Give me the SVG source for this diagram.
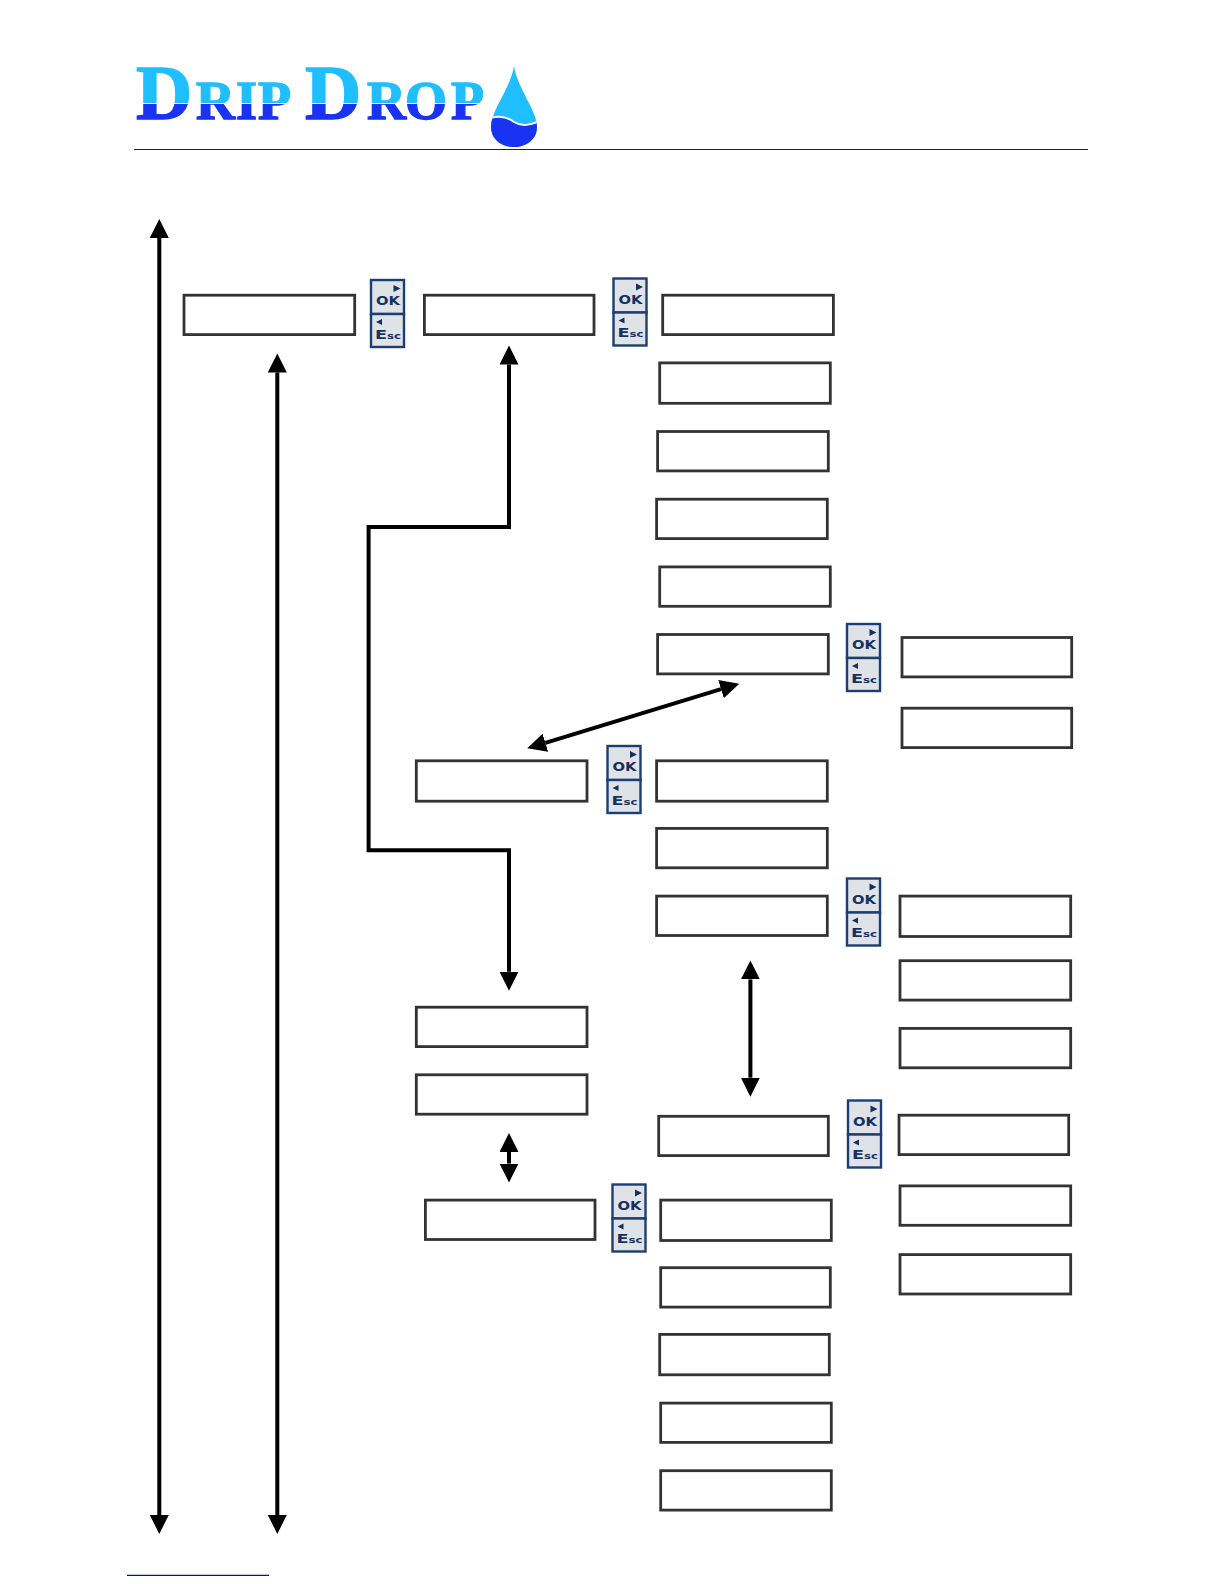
<svg xmlns="http://www.w3.org/2000/svg" xmlns:xlink="http://www.w3.org/1999/xlink" width="1224" height="1584" viewBox="0 0 1224 1584">
<style>
.box{fill:#fff;stroke:#333;stroke-width:2.8}
.conn{fill:none;stroke:#000;stroke-width:4}
.a{marker-start:url(#head);marker-end:url(#head)}
.logo{font-family:"Liberation Serif",serif;font-weight:bold;fill:url(#split);stroke:url(#split);stroke-width:1.4}
.bt{fill:#dfe3e8;stroke:#1c3f73;stroke-width:2.4}
.bl{font-family:"DejaVu Sans",sans-serif;font-weight:bold;fill:#16315f}
.tri{fill:#16315f}
</style>
<defs>
<marker id="head" markerUnits="userSpaceOnUse" markerWidth="20" markerHeight="20" refX="0" refY="9.5" orient="auto-start-reverse"><path d="M0,0L19,9.5L0,19Z" fill="#000"/></marker>
<linearGradient id="split" gradientUnits="userSpaceOnUse" x1="0" y1="60" x2="0" y2="125">
<stop offset="0.655" stop-color="#1fbeff"/><stop offset="0.655" stop-color="#fff"/><stop offset="0.67" stop-color="#fff"/><stop offset="0.67" stop-color="#1a33f2"/>
</linearGradient>
<clipPath id="dropclip"><path d="M514,66C510,90 491,110 491,127C491,139 501,147 514,147C527,147 537,139 537,127C537,110 518,90 514,66Z"/></clipPath>
<symbol id="btn" width="36" height="70" viewBox="0 0 36 70" overflow="visible">
<rect class="bt" x="1" y="1" width="33" height="34"/>
<rect class="bt" x="1" y="35" width="33" height="33"/>
<path class="tri" d="M23.5,6L30.5,9.5L23.5,13Z"/>
<path class="tri" d="M12,40L6,43L12,46Z"/>
<text class="bl" x="6" y="26" font-size="12" textLength="24" lengthAdjust="spacingAndGlyphs">OK</text>
<text class="bl" x="5" y="59.5" font-size="12" textLength="26" lengthAdjust="spacingAndGlyphs">E<tspan font-size="8">sc</tspan></text>
</symbol>
</defs>
<rect width="1224" height="1584" fill="#fff"/>
<g id="logo">
<text class="logo" y="118.5" font-size="78" x="136">D</text>
<text class="logo" y="118.5" font-size="54" x="196 236 258">RIP</text>
<text class="logo" y="118.5" font-size="78" x="305">D</text>
<text class="logo" y="118.5" font-size="54" x="367 405 451">ROP</text>
<g clip-path="url(#dropclip)">
<rect x="488" y="60" width="52" height="90" fill="#1fbeff"/>
<path d="M488,119C498,115 506,116 514,122C522,127 530,125 540,121V150H488Z" fill="#1a33f2"/>
<path d="M488,119C498,115 506,116 514,122C522,127 530,125 540,121" fill="none" stroke="#fff" stroke-width="2"/>
</g>
</g>
<line x1="134" y1="149.5" x2="1088" y2="149.5" stroke="#222" stroke-width="1.2"/>
<line x1="127" y1="1575.3" x2="269" y2="1575.3" stroke="#00148c" stroke-width="1.2"/>
<g id="connectors">
<line class="conn a" x1="159.3" y1="238" x2="159.3" y2="1515"/>
<line class="conn a" x1="277.3" y1="372.5" x2="277.3" y2="1515"/>
<path class="conn a" d="M509,364.5V527H368.6V850.3H509V971.7"/>
<line class="conn a" x1="545.4" y1="742.8" x2="721" y2="689.2"/>
<line class="conn a" x1="750.4" y1="979.4" x2="750.4" y2="1077.7"/>
<line class="conn a" x1="509" y1="1152" x2="509" y2="1163.6"/>
</g>
<g id="n1"><rect class="box" x="184" y="295.2" width="170.7" height="39.4"/></g>
<g id="n2"><rect class="box" x="424.4" y="295.2" width="169.6" height="39.4"/></g>
<g id="n3"><rect class="box" x="662.7" y="295.2" width="170.7" height="39.4"/></g>
<g id="n4"><rect class="box" x="659.7" y="362.9" width="170.6" height="40.4"/></g>
<g id="n5"><rect class="box" x="657.6" y="431.5" width="170.7" height="39.4"/></g>
<g id="n6"><rect class="box" x="656.6" y="499.2" width="170.7" height="39.4"/></g>
<g id="n7"><rect class="box" x="659.7" y="566.9" width="170.6" height="39.4"/></g>
<g id="n8"><rect class="box" x="657.6" y="634.5" width="170.7" height="39.4"/></g>
<g id="n9"><rect class="box" x="902" y="637.5" width="169.7" height="39.4"/></g>
<g id="n10"><rect class="box" x="902" y="708.2" width="169.7" height="39.4"/></g>
<g id="n11"><rect class="box" x="416.3" y="760.8" width="170.7" height="40.4"/></g>
<g id="n12"><rect class="box" x="656.6" y="760.8" width="170.7" height="40.4"/></g>
<g id="n13"><rect class="box" x="656.6" y="828.4" width="170.7" height="39.4"/></g>
<g id="n14"><rect class="box" x="656.6" y="896.1" width="170.7" height="39.4"/></g>
<g id="n15"><rect class="box" x="900" y="896.1" width="170.7" height="40.4"/></g>
<g id="n16"><rect class="box" x="900" y="960.7" width="170.7" height="39.4"/></g>
<g id="n17"><rect class="box" x="900" y="1028.4" width="170.7" height="39.4"/></g>
<g id="n18"><rect class="box" x="416.3" y="1007.2" width="170.7" height="39.4"/></g>
<g id="n19"><rect class="box" x="416.3" y="1074.8" width="170.7" height="39.4"/></g>
<g id="n20"><rect class="box" x="658.7" y="1116.3" width="169.6" height="39.3"/></g>
<g id="n21"><rect class="box" x="899" y="1115.2" width="169.7" height="39.4"/></g>
<g id="n22"><rect class="box" x="900" y="1185.9" width="170.7" height="39.4"/></g>
<g id="n23"><rect class="box" x="900" y="1254.6" width="170.7" height="39.4"/></g>
<g id="n24"><rect class="box" x="425.4" y="1200.1" width="169.6" height="39.4"/></g>
<g id="n25"><rect class="box" x="660.7" y="1200.1" width="170.6" height="40.4"/></g>
<g id="n26"><rect class="box" x="660.7" y="1267.7" width="169.6" height="39.4"/></g>
<g id="n27"><rect class="box" x="659.7" y="1334.4" width="169.6" height="40.4"/></g>
<g id="n28"><rect class="box" x="660.7" y="1403.1" width="170.6" height="39.3"/></g>
<g id="n29"><rect class="box" x="660.7" y="1470.7" width="170.6" height="39.4"/></g>
<g id="btn1"><use href="#btn" x="370" y="279"/></g>
<g id="btn2"><use href="#btn" x="612.5" y="277.5"/></g>
<g id="btn3"><use href="#btn" x="846" y="623"/></g>
<g id="btn4"><use href="#btn" x="606.5" y="745"/></g>
<g id="btn5"><use href="#btn" x="846" y="877.5"/></g>
<g id="btn6"><use href="#btn" x="847" y="1099.5"/></g>
<g id="btn7"><use href="#btn" x="611.5" y="1183.5"/></g>
</svg>
